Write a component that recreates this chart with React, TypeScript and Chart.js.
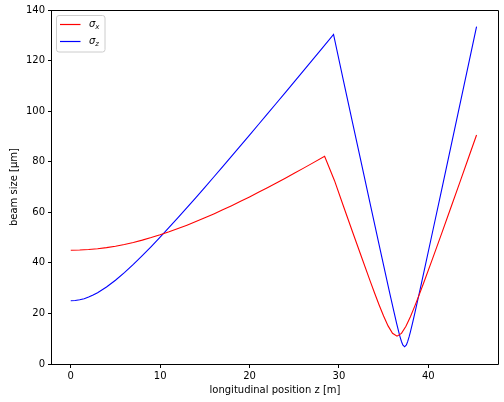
import React, { useEffect, useRef } from "react";
import { Chart, registerables } from "chart.js";

Chart.register(...registerables);

const redZ = [0, 1, 2, 3, 4, 5, 6, 7, 8, 9, 10, 11, 12, 13, 14, 15, 16, 17, 18, 19, 20, 21, 22, 23, 24, 25, 26, 27, 28.4, 29.5, 30.5, 31.5, 32.5, 33.5, 34.0, 34.5, 35.0, 35.5, 36.0, 36.5, 37.0, 37.5, 38.0, 38.5, 39.0, 39.5, 40.5, 41.5, 42.5, 43.5, 44.5, 45.4];
const redV = [45.0, 45.07, 45.26, 45.58, 46.03, 46.6, 47.28, 48.08, 48.99, 49.99, 51.09, 52.28, 53.56, 54.91, 56.33, 57.82, 59.36, 60.97, 62.63, 64.34, 66.09, 67.88, 69.71, 71.58, 73.47, 75.4, 77.36, 79.34, 82.15, 72.6, 62.5, 52.5, 42.6, 32.8, 28.0, 23.35, 18.97, 15.07, 12.15, 11.0, 12.1, 14.93, 18.72, 22.99, 27.54, 32.24, 41.87, 51.68, 61.59, 71.55, 81.55, 90.56];

const blueZ = [0, 0.5, 1, 1.5, 2, 2.5, 3, 4, 5, 6, 7, 8, 9, 10, 11, 12, 13, 14, 15, 16, 17, 18, 19, 20, 21, 22, 23, 24, 25, 26, 27, 28, 29.4, 30.5, 31.5, 32.5, 33.5, 34.5, 35.5, 35.8, 36.2, 36.45, 36.7, 36.85, 37.0, 37.15, 37.35, 37.55, 37.7, 37.85, 38.0, 38.25, 38.5, 39.0, 39.5, 40.5, 41.5, 42.5, 43.5, 44.5, 45.4];
const blueV = [25.0, 25.09, 25.38, 25.84, 26.47, 27.26, 28.2, 30.46, 33.14, 36.14, 39.4, 42.85, 46.45, 50.17, 53.99, 57.88, 61.83, 65.83, 69.88, 73.95, 78.06, 82.19, 86.35, 90.52, 94.71, 98.91, 103.13, 107.35, 111.59, 115.83, 120.08, 124.34, 130.31, 112.2, 95.9, 79.6, 63.3, 47.1, 31.0, 26.24, 20.0, 16.21, 12.62, 10.63, 8.89, 7.55, 6.8, 7.56, 8.93, 10.71, 12.73, 16.37, 20.2, 28.14, 36.2, 52.6, 69.0, 85.5, 102.0, 118.5, 133.4];

const xTicks = [0, 10, 20, 30, 40];
const yTicks = [0, 20, 40, 60, 80, 100, 120, 140];
const seriesNames = ["x", "z"];

const FONT = "'DejaVu Sans', sans-serif";

const framePlugin = {
  id: "frame",
  afterDraw(chart: any) {
    const { ctx, chartArea } = chart;
    const { left, top, right, bottom } = chartArea;
    ctx.save();
    ctx.strokeStyle = "#000";
    ctx.lineWidth = 1;
    const l = Math.round(left) - 0.5;
    const r0 = Math.round(right) + 0.5;
    const t = Math.round(top) + 0.5;
    const b = Math.round(bottom) + 0.5;
    ctx.beginPath();
    ctx.moveTo(l, t);
    ctx.lineTo(r0, t);
    ctx.lineTo(r0, b);
    ctx.lineTo(l, b);
    ctx.closePath();
    ctx.stroke();

    // legend
    const bx = 56.5, by = 15.5, bw = 48.5, bh = 36.5, r = 2.5;
    ctx.beginPath();
    ctx.moveTo(bx + r, by);
    ctx.lineTo(bx + bw - r, by);
    ctx.quadraticCurveTo(bx + bw, by, bx + bw, by + r);
    ctx.lineTo(bx + bw, by + bh - r);
    ctx.quadraticCurveTo(bx + bw, by + bh, bx + bw - r, by + bh);
    ctx.lineTo(bx + r, by + bh);
    ctx.quadraticCurveTo(bx, by + bh, bx, by + bh - r);
    ctx.lineTo(bx, by + r);
    ctx.quadraticCurveTo(bx, by, bx + r, by);
    ctx.closePath();
    ctx.fillStyle = "rgba(255,255,255,0.8)";
    ctx.fill();
    ctx.strokeStyle = "#cccccc";
    ctx.lineWidth = 1;
    ctx.stroke();

    const colors = ["#ff0000", "#0000ff"];
    const ys = [24.5, 41.5];
    for (let i = 0; i < 2; i++) {
      ctx.strokeStyle = colors[i];
      ctx.lineWidth = 1.2;
      ctx.beginPath();
      ctx.moveTo(60, ys[i]);
      ctx.lineTo(80.5, ys[i]);
      ctx.stroke();
      ctx.fillStyle = "#000";
      ctx.textBaseline = "middle";
      ctx.textAlign = "left";
      ctx.font = `italic 10px ${FONT}`;
      ctx.fillText("σ", 89, ys[i]);
      const w = ctx.measureText("σ").width;
      ctx.font = `italic 7px ${FONT}`;
      ctx.fillText(seriesNames[i], 89 + w, ys[i] + 2.5);
    }
    ctx.restore();
  },
};

export default function App() {
  const ref = useRef<HTMLCanvasElement>(null);
  useEffect(() => {
    if (!ref.current) return;
    const chart = new Chart(ref.current, {
      type: "line",
      data: {
        datasets: [
          {
            label: "σx",
            data: redZ.map((z, i) => ({ x: z, y: redV[i] })),
            borderColor: "#ff0000",
            borderWidth: 1.1,
            pointRadius: 0,
            tension: 0,
            fill: false,
          },
          {
            label: "σz",
            data: blueZ.map((z, i) => ({ x: z, y: blueV[i] })),
            borderColor: "#0000ff",
            borderWidth: 1.1,
            pointRadius: 0,
            tension: 0,
            fill: false,
          },
        ],
      },
      plugins: [framePlugin],
      options: {
        animation: false,
        responsive: false,
        devicePixelRatio: 1,
        layout: { padding: { left: 0, right: 6, top: 10, bottom: 0 } },
        plugins: { legend: { display: false }, tooltip: { enabled: false } },
        scales: {
          x: {
            type: "linear",
            min: -2.1,
            max: 47.8,
            afterBuildTicks: (s: any) => {
              s.ticks = xTicks.map((v) => ({ value: v }));
            },
            afterFit: (s: any) => {
              s.height = 38;
            },
            grid: { drawOnChartArea: false, drawTicks: true, tickLength: 4, color: "#000", tickWidth: 1 },
            border: { display: false },
            ticks: { color: "#000", font: { family: FONT, size: 10 }, padding: 2, maxRotation: 0 },
            title: { display: true, text: "longitudinal position z [m]", color: "#000", font: { family: FONT, size: 10 }, padding: { top: 0, bottom: 6 } },
          },
          y: {
            type: "linear",
            min: 0,
            max: 140,
            afterBuildTicks: (s: any) => {
              s.ticks = yTicks.map((v) => ({ value: v }));
            },
            afterFit: (s: any) => {
              s.width = 52;
            },
            grid: { drawOnChartArea: false, drawTicks: true, tickLength: 4, color: "#000", tickWidth: 1 },
            border: { display: false },
            ticks: { color: "#000", font: { family: FONT, size: 10 }, padding: 3 },
            title: { display: true, text: "beam size [μm]", color: "#000", font: { family: FONT, size: 10 }, padding: { top: 8, bottom: 0 } },
          },
        },
      },
    });
    return () => chart.destroy();
  }, []);
  return (
    <div style={{ position: "fixed", left: 0, top: 0, width: 504, height: 402, background: "#fff" }}>
      <canvas ref={ref} width={504} height={402} style={{ width: 504, height: 402, display: "block" }} />
    </div>
  );
}
